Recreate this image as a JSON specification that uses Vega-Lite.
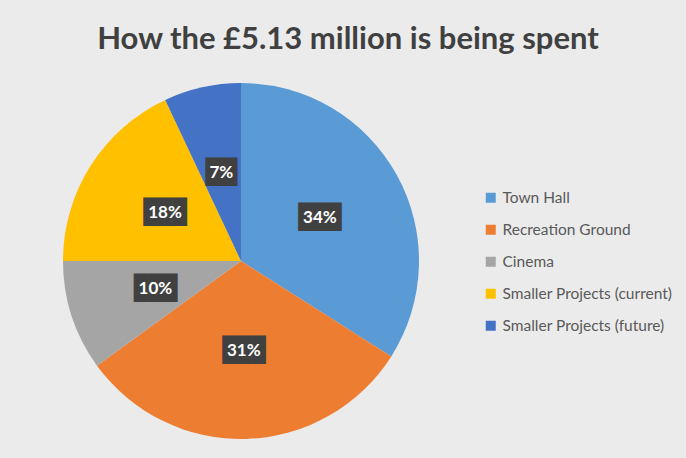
{
  "$schema": "https://vega.github.io/schema/vega-lite/v6.json",
  "width": 356,
  "height": 356,
  "autosize": {"type": "none"},
  "padding": {"left": 63, "top": 83, "right": 267, "bottom": 19},
  "background": "#ebebeb",
  "title": {
    "text": "How the £5.13 million is being spent",
    "font": "Lato",
    "fontSize": 31,
    "fontWeight": "bold",
    "color": "#404040",
    "anchor": "middle",
    "frame": "group",
    "dx": 107,
    "offset": 27
  },
  "data": {
    "values": [
      {"category": "Town Hall", "pct": 0.34},
      {"category": "Recreation Ground", "pct": 0.31},
      {"category": "Cinema", "pct": 0.10},
      {"category": "Smaller Projects (current)", "pct": 0.18},
      {"category": "Smaller Projects (future)", "pct": 0.07}
    ]
  },
  "transform": [{"window": [{"op": "row_number", "as": "idx"}]}],
  "encoding": {
    "theta": {"field": "pct", "type": "quantitative", "stack": true},
    "order": {"field": "idx", "type": "quantitative"}
  },
  "layer": [
    {
      "mark": {"type": "arc"},
      "encoding": {
        "color": {
          "field": "category",
          "type": "nominal",
          "scale": {
            "domain": ["Town Hall", "Recreation Ground", "Cinema", "Smaller Projects (current)", "Smaller Projects (future)"],
            "range": ["#5B9BD5", "#ED7D31", "#A5A5A5", "#FFC000", "#4472C4"]
          },
          "legend": {
            "orient": "none",
            "legendX": 420,
            "legendY": 107,
            "title": null,
            "symbolType": "square",
            "symbolSize": 100,
            "symbolStrokeWidth": 0,
            "symbolOpacity": 1,
            "labelFont": "Lato",
            "labelFontSize": 15.5,
            "labelColor": "#595959",
            "labelOffset": 4,
            "rowPadding": 15,
            "labelLimit": 300
          }
        }
      }
    },
    {
      "mark": {"type": "text", "radius": 90, "font": "DejaVu Sans Mono", "fontSize": 24, "color": "#404040", "align": "center", "baseline": "middle"},
      "encoding": {
        "text": {"condition": {"test": "datum.pct < 0.1", "value": "▕██▏"}, "value": "███"}
      }
    },
    {
      "mark": {"type": "text", "radius": 90, "font": "Lato", "fontSize": 17, "fontWeight": "bold", "color": "white", "align": "center", "baseline": "middle"},
      "encoding": {
        "text": {"field": "pct", "type": "quantitative", "format": ".0%"}
      }
    }
  ]
}
